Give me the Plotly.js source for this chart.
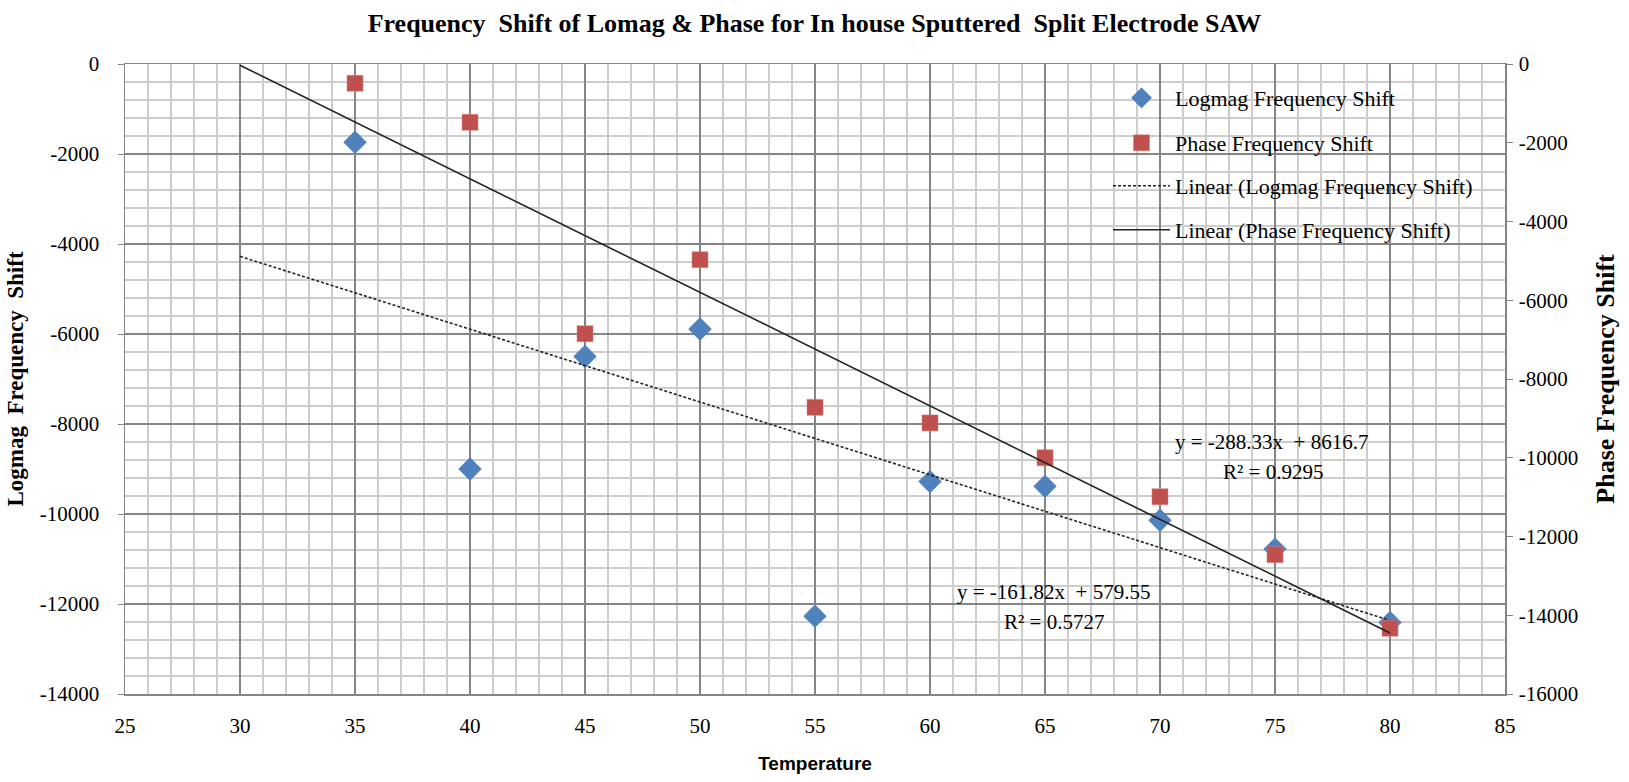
<!DOCTYPE html>
<html>
<head>
<meta charset="utf-8">
<script src="https://cdn.plot.ly/plotly-3.0.1.min.js"></script>
<style>html,body{margin:0;padding:0;background:#fff;}#chart{width:1629px;height:782px;}</style>
</head>
<body>
<div id="chart"></div>
<script>
// ---- data ----
const temperature = [35, 40, 45, 50, 55, 60, 65, 70, 75, 80];
const logmagShift = [-1740, -9000, -6500, -5890, -12270, -9280, -9385, -10140, -10780, -12410];
const phaseShift  = [-490, -1480, -6850, -4970, -8720, -9115, -10000, -10990, -12460, -14330];

// trendline equations printed on the chart
const logmagTrend = {slope: -161.82, intercept: 579.55, r2: 0.5727};
const phaseTrend  = {slope: -288.33, intercept: 8616.7, r2: 0.9295};
const trendRange = [30, 80];

// tick labels
const xTicks = [25, 30, 35, 40, 45, 50, 55, 60, 65, 70, 75, 80, 85];
const leftTicks = [0, -2000, -4000, -6000, -8000, -10000, -12000, -14000];
const rightTicks = [0, -2000, -4000, -6000, -8000, -10000, -12000, -14000, -16000];

const seriesNames = ['Logmag Frequency Shift', 'Phase Frequency Shift',
  'Linear (Logmag Frequency Shift)', 'Linear (Phase Frequency Shift)'];

const serif = 'Liberation Serif, Times New Roman, serif';
const NB = '\u00a0';

function trendY(t) { return trendRange.map(x => t.slope * x + t.intercept); }

const traces = [
  {x: temperature, y: logmagShift, type: 'scatter', mode: 'markers', name: seriesNames[0],
   marker: {symbol: 'diamond', size: 18, color: '#4f81bd'}, yaxis: 'y', legend: 'legend'},
  {x: temperature, y: phaseShift, type: 'scatter', mode: 'markers', name: seriesNames[1],
   marker: {symbol: 'square', size: 16, color: '#c0504d', line: {color: '#d9827f', width: 0.5}}, yaxis: 'y2', legend: 'legend2'},
  {x: trendRange, y: trendY(logmagTrend), type: 'scatter', mode: 'lines', name: seriesNames[2],
   line: {color: '#222', width: 1.6, dash: '3px,2px'}, yaxis: 'y', legend: 'legend3'},
  {x: trendRange, y: trendY(phaseTrend), type: 'scatter', mode: 'lines', name: seriesNames[3],
   line: {color: '#222', width: 1.6}, yaxis: 'y2', legend: 'legend4'}
];

function eqText(t) {
  const sign = t.intercept < 0 ? '-' : '+';
  return 'y = ' + t.slope.toFixed(2) + 'x ' + NB + sign + ' ' + Math.abs(t.intercept);
}

// plot area in pixels (matches margins)
const M = {l: 125, r: 124, t: 64, b: 88};
const PL = M.l, PR = 1629 - M.r, PT = M.t, PB = 782 - M.b;
function legendAt(xPix, yPix) {
  return {x: (xPix - PL) / (PR - PL), xanchor: 'left', y: (PB - yPix) / (PB - PT), yanchor: 'middle',
    bgcolor: 'rgba(0,0,0,0)', borderwidth: 0, itemwidth: 57,
    font: {family: serif, size: 22, color: '#000'}};
}

const gridMajor = '#858585';
const gridMinor = '#cdcdcd';
const xMinor = [];
for (let v = 26; v < 85; v++) if (v % 5 !== 0) xMinor.push(v);
const yMinor = [];
for (let v = -13600; v < 0; v += 400) if (v % 2000 !== 0) yMinor.push(v);

const tickFont = {family: serif, size: 21, color: '#000'};

const layout = {
  width: 1629, height: 782,
  paper_bgcolor: '#fff', plot_bgcolor: '#fff',
  margin: M,
  showlegend: true,
  title: {text: 'Frequency ' + NB + 'Shift of Lomag &amp; Phase for In house Sputtered ' + NB + 'Split Electrode SAW',
    font: {family: serif, size: 26, color: '#000', weight: 'bold'},
    x: 0.5, xanchor: 'center', y: 1 - 23 / 782, yanchor: 'middle'},
  xaxis: {range: [25, 85], tickmode: 'array', tickvals: xTicks, ticktext: xTicks.map(String),
    showgrid: true, gridcolor: gridMajor, gridwidth: 1.5,
    minor: {tickmode: 'array', tickvals: xMinor, showgrid: true, gridcolor: gridMinor, gridwidth: 2},
    zeroline: false, showline: true, linecolor: gridMajor, linewidth: 1.5, mirror: true,
    ticks: '', tickfont: tickFont, ticklabelstandoff: 12,
    title: {text: 'Temperature', font: {family: 'Liberation Sans, Arial, sans-serif', size: 19, color: '#000', weight: 'bold'}, standoff: 20}},
  yaxis: {range: [-14000, 0], tickmode: 'array', tickvals: leftTicks, ticktext: leftTicks.map(String),
    showgrid: true, gridcolor: gridMajor, gridwidth: 1.5,
    minor: {tickmode: 'array', tickvals: yMinor, showgrid: true, gridcolor: gridMinor, gridwidth: 2.2},
    zeroline: false, showline: true, linecolor: gridMajor, linewidth: 1.5,
    ticks: 'outside', ticklen: 6, tickcolor: gridMajor,
    tickfont: tickFont, ticklabelstandoff: 14,
    title: {text: 'Logmag ' + NB + 'Frequency ' + NB + 'Shift', font: {family: serif, size: 23, color: '#000', weight: 'bold'}, standoff: 9}},
  yaxis2: {range: [-16000, 0], tickmode: 'array', tickvals: rightTicks, ticktext: rightTicks.map(String),
    overlaying: 'y', side: 'right', showgrid: false,
    zeroline: false, showline: true, linecolor: gridMajor, linewidth: 1.5,
    ticks: 'outside', ticklen: 6, tickcolor: gridMajor,
    tickfont: tickFont, ticklabelstandoff: 2,
    title: {text: 'Phase Frequency Shift', font: {family: serif, size: 26, color: '#000', weight: 'bold'}, standoff: 18}},
  legend: legendAt(1108, 98),
  legend2: legendAt(1108, 143),
  legend3: legendAt(1108, 186),
  legend4: legendAt(1108, 230),
  annotations: [
    {text: eqText(phaseTrend), xref: 'x', yref: 'y', x: 74.85, y: -8404, showarrow: false,
     font: {family: serif, size: 21, color: '#000'}},
    {text: 'R² = ' + phaseTrend.r2, xref: 'x', yref: 'y', x: 74.9, y: -9070, showarrow: false,
     font: {family: serif, size: 21, color: '#000'}},
    {text: eqText(logmagTrend), xref: 'x', yref: 'y', x: 65.37, y: -11734, showarrow: false,
     font: {family: serif, size: 21, color: '#000'}},
    {text: 'R² = ' + logmagTrend.r2, xref: 'x', yref: 'y', x: 65.4, y: -12400, showarrow: false,
     font: {family: serif, size: 21, color: '#000'}}
  ]
};

Plotly.newPlot('chart', traces, layout, {displayModeBar: false, staticPlot: true});
</script>
</body>
</html>
